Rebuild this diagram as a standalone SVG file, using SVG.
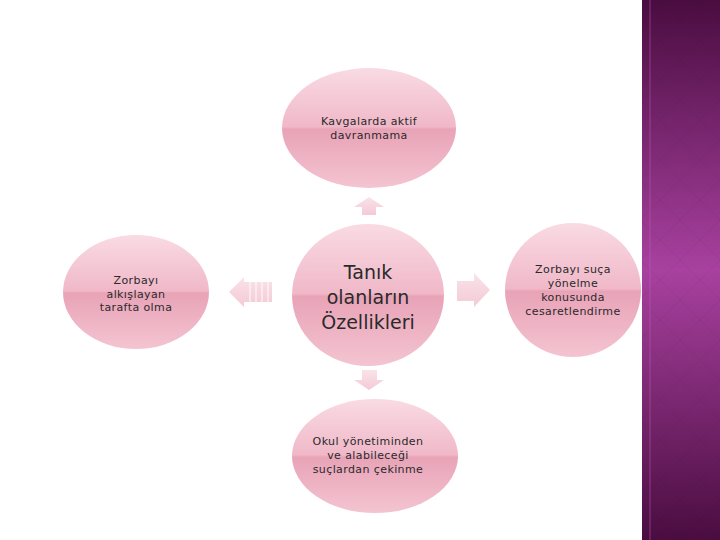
<svg xmlns="http://www.w3.org/2000/svg" width="720" height="540" viewBox="0 0 720 540">
<defs>
<linearGradient id="pink" x1="0" y1="0" x2="0" y2="1">
<stop offset="0" stop-color="#f9dbe3"/>
<stop offset="0.49" stop-color="#f0b8c8"/>
<stop offset="0.51" stop-color="#e8a3b7"/>
<stop offset="1" stop-color="#f4c4d1"/>
</linearGradient>
<linearGradient id="band" x1="0" y1="0" x2="0" y2="1">
<stop offset="0" stop-color="#4a0d40"/>
<stop offset="0.5" stop-color="#a8419f"/>
<stop offset="1" stop-color="#4a0d40"/>
</linearGradient>
<pattern id="dia" width="40" height="40" patternUnits="userSpaceOnUse">
<path d="M0 20 L20 0 L40 20 L20 40 Z" fill="none" stroke="#000" stroke-opacity="0.05" stroke-width="1"/>
</pattern>
<linearGradient id="arr" x1="0" y1="0" x2="0" y2="1">
<stop offset="0" stop-color="#fae2e9"/>
<stop offset="1" stop-color="#f3cad5"/>
</linearGradient>
<style>
.node{fill:url(#pink)}
.t{font-family:"DejaVu Sans","Liberation Sans",sans-serif;font-size:11px;letter-spacing:0.4px;fill:#2a2a2a;text-anchor:middle}
.tb{font-family:"DejaVu Sans","Liberation Sans",sans-serif;font-size:19px;fill:#2a2a2a;text-anchor:middle}
.a{fill:url(#arr)}
</style>
</defs>
<rect width="720" height="540" fill="#fff"/>
<g id="band-deco">
<rect x="642" y="0" width="78" height="540" fill="url(#band)"/>
<rect x="642" y="0" width="78" height="540" fill="url(#dia)"/>
<rect x="649" y="0" width="2" height="540" fill="#c060b8" opacity="0.25"/>
</g>
<g id="connectors">
<path class="a" d="M369 197 L384 207 L376 207 L376 215 L362 215 L362 207 L354 207 Z"/>
<path class="a" d="M229 292 L244 277 L244 282 L272 282 L272 302 L244 302 L244 307 Z"/>
<g stroke="#fff" stroke-width="1.2" opacity="0.8">
<line x1="250" y1="282" x2="250" y2="302"/>
<line x1="256" y1="282" x2="256" y2="302"/>
<line x1="262" y1="282" x2="262" y2="302"/>
<line x1="268" y1="282" x2="268" y2="302"/>
</g>
<path class="a" d="M490 290 L474 273 L474 281 L457 281 L457 301 L474 301 L474 307 Z"/>
<path class="a" d="M369 390 L384 380 L377 380 L377 370 L362 370 L362 380 L354 380 Z"/>
</g>
<g id="n-top">
<ellipse class="node" cx="369" cy="128" rx="87" ry="60"/>
<text class="t" x="369" y="125">Kavgalarda aktif</text>
<text class="t" x="369" y="139">davranmama</text>
</g>
<g id="n-center">
<ellipse class="node" cx="368" cy="295" rx="76" ry="71"/>
<text class="tb" x="368" y="279">Tanık</text>
<text class="tb" x="368" y="304">olanların</text>
<text class="tb" x="368" y="329">Özellikleri</text>
</g>
<g id="n-left">
<ellipse class="node" cx="136" cy="292" rx="73" ry="57"/>
<text class="t" x="136" y="284">Zorbayı</text>
<text class="t" x="136" y="298">alkışlayan</text>
<text class="t" x="136" y="311">tarafta olma</text>
</g>
<g id="n-right">
<ellipse class="node" cx="573" cy="290" rx="68" ry="67"/>
<text class="t" x="573" y="273">Zorbayı suça</text>
<text class="t" x="573" y="287">yönelme</text>
<text class="t" x="573" y="301">konusunda</text>
<text class="t" x="573" y="315">cesaretlendirme</text>
</g>
<g id="n-bottom">
<ellipse class="node" cx="375" cy="456" rx="83" ry="57"/>
<text class="t" x="368" y="445">Okul yönetiminden</text>
<text class="t" x="368" y="459">ve alabileceği</text>
<text class="t" x="368" y="473">suçlardan çekinme</text>
</g>
</svg>
